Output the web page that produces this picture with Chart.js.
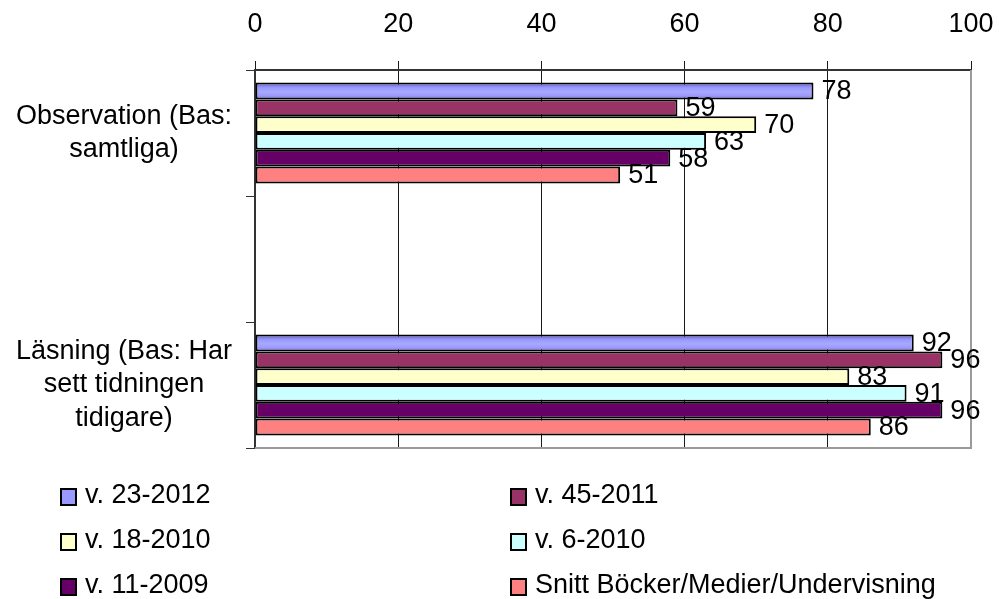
<!DOCTYPE html>
<html>
<head>
<meta charset="utf-8">
<script src="https://cdn.jsdelivr.net/npm/chart.js@4/dist/chart.umd.min.js"></script>
<style>
  html, body { margin: 0; padding: 0; background: #fff; }
  #wrap { width: 999px; height: 599px; position: relative; }
</style>
</head>
<body>
<div id="wrap"><canvas id="c" width="999" height="599"></canvas></div>
<script>
// Survey categories (multi-line labels); the middle slot is an empty spacer row
const categories = [
  ['Observation (Bas:', 'samtliga)'],
  '',
  ['Läsning (Bas: Har', 'sett tidningen', 'tidigare)']
];

// One series per survey wave
const seriesNames = ['v. 23-2012', 'v. 45-2011', 'v. 18-2010', 'v. 6-2010', 'v. 11-2009', 'Snitt Böcker/Medier/Undervisning'];
const v23_2012 = [78, null, 92];
const v45_2011 = [59, null, 96];
const v18_2010 = [70, null, 83];
const v6_2010  = [63, null, 91];
const v11_2009 = [58, null, 96];
const snitt    = [51, null, 86];

const xTicks = [0, 20, 40, 60, 80, 100];

const colors = ['#9999FF', '#993366', '#FFFFCC', '#CCFFFF', '#660066', '#FF8080'];
const FONT = 'Liberation Sans, Arial, sans-serif';
const FS = 27;

// First series has a shaded, tube-like fill
function blueFill(ctx) {
  const chart = ctx.chart;
  const y = chart.scales && chart.scales.y;
  if (!y || ctx.dataIndex === undefined) return colors[0];
  const catH = (y.bottom - y.top) / categories.length;
  const group = catH * 0.8;
  const barH = group / seriesNames.length;
  const top = y.getPixelForValue(ctx.dataIndex) - group / 2;
  if (!isFinite(top) || !isFinite(barH) || barH <= 0) return colors[0];
  const g = chart.ctx.createLinearGradient(0, top, 0, top + barH);
  g.addColorStop(0, '#5a5ab8');
  g.addColorStop(0.3, '#9999FF');
  g.addColorStop(0.55, '#a8a8ff');
  g.addColorStop(0.8, '#9999FF');
  g.addColorStop(1, '#5a5ab8');
  return g;
}

const seriesData = [v23_2012, v45_2011, v18_2010, v6_2010, v11_2009, snitt];

// Value labels at the end of each bar
const valueLabels = {
  id: 'valueLabels',
  afterDatasetsDraw(chart) {
    const ctx = chart.ctx;
    ctx.save();
    ctx.font = FS + 'px ' + FONT;
    ctx.fillStyle = '#000';
    ctx.textAlign = 'left';
    ctx.textBaseline = 'middle';
    chart.data.datasets.forEach((ds, di) => {
      const meta = chart.getDatasetMeta(di);
      meta.data.forEach((bar, i) => {
        const v = ds.data[i];
        if (v === null || v === undefined) return;
        ctx.fillText(String(v), bar.x + 8, bar.y + 1);
      });
    });
    ctx.restore();
  }
};

// Light frame on the right and bottom of the plot area
const plotFrame = {
  id: 'plotFrame',
  beforeDatasetsDraw(chart) {
    const { ctx, chartArea: a } = chart;
    ctx.save();
    ctx.strokeStyle = '#9a9a9a';
    ctx.lineWidth = 2;
    ctx.beginPath();
    ctx.moveTo(a.left, a.bottom);
    ctx.lineTo(a.right, a.bottom);
    ctx.lineTo(a.right, a.top);
    ctx.stroke();
    ctx.restore();
  }
};

// Two-column legend below the plot
const gridLegend = {
  id: 'gridLegend',
  afterDraw(chart) {
    const ctx = chart.ctx;
    const colX = [61, 511];
    const rowY = [496, 541, 586];
    ctx.save();
    ctx.font = FS + 'px ' + FONT;
    ctx.textBaseline = 'middle';
    ctx.textAlign = 'left';
    chart.data.datasets.forEach((ds, i) => {
      const x = colX[i % 2];
      const y = rowY[Math.floor(i / 2)];
      ctx.fillStyle = colors[i];
      ctx.fillRect(x, y - 7, 15, 16);
      ctx.strokeStyle = '#000';
      ctx.lineWidth = 2;
      ctx.strokeRect(x, y - 7, 15, 16);
      ctx.fillStyle = '#000';
      ctx.fillText(ds.label, x + 24, y);
    });
    ctx.restore();
  }
};

new Chart(document.getElementById('c'), {
  type: 'bar',
  data: {
    labels: categories,
    datasets: seriesNames.map((name, i) => ({
      label: name,
      data: seriesData[i],
      backgroundColor: i === 0 ? blueFill : colors[i],
      borderColor: '#000',
      borderWidth: 2,
      borderSkipped: false,
      categoryPercentage: 0.8,
      barPercentage: 1.0
    }))
  },
  options: {
    indexAxis: 'y',
    responsive: false,
    animation: false,
    devicePixelRatio: 1,
    layout: { padding: { top: 0, left: 0, right: 28, bottom: 151 } },
    plugins: {
      legend: { display: false },
      tooltip: { enabled: false }
    },
    scales: {
      x: {
        position: 'top',
        min: 0,
        max: 100,
        afterBuildTicks(scale) {
          scale.ticks = xTicks.map(v => ({ value: v }));
        },
        afterFit(scale) {
          scale.height = 70;
          scale.paddingLeft = 0;
          scale.paddingRight = 0;
        },
        ticks: {
          color: '#000',
          font: { family: FONT, size: FS },
          padding: 20,
          maxRotation: 0
        },
        grid: {
          color: (c) => (c.tick && c.tick.value === 100) ? 'rgba(0,0,0,0)' : '#1a1a1a',
          tickColor: '#1a1a1a',
          lineWidth: 1,
          tickLength: 9
        },
        border: { display: true, color: '#333', width: 2 }
      },
      y: {
        afterFit(scale) { scale.width = 255; },
        ticks: {
          color: '#000',
          font: { family: FONT, size: FS, lineHeight: 1.25 },
          crossAlign: 'center',
          padding: 14
        },
        grid: {
          drawOnChartArea: false,
          offset: true,
          tickColor: '#333',
          tickLength: 9
        },
        border: { display: true, color: '#333', width: 2 }
      }
    }
  },
  plugins: [plotFrame, valueLabels, gridLegend]
});
</script>
</body>
</html>
